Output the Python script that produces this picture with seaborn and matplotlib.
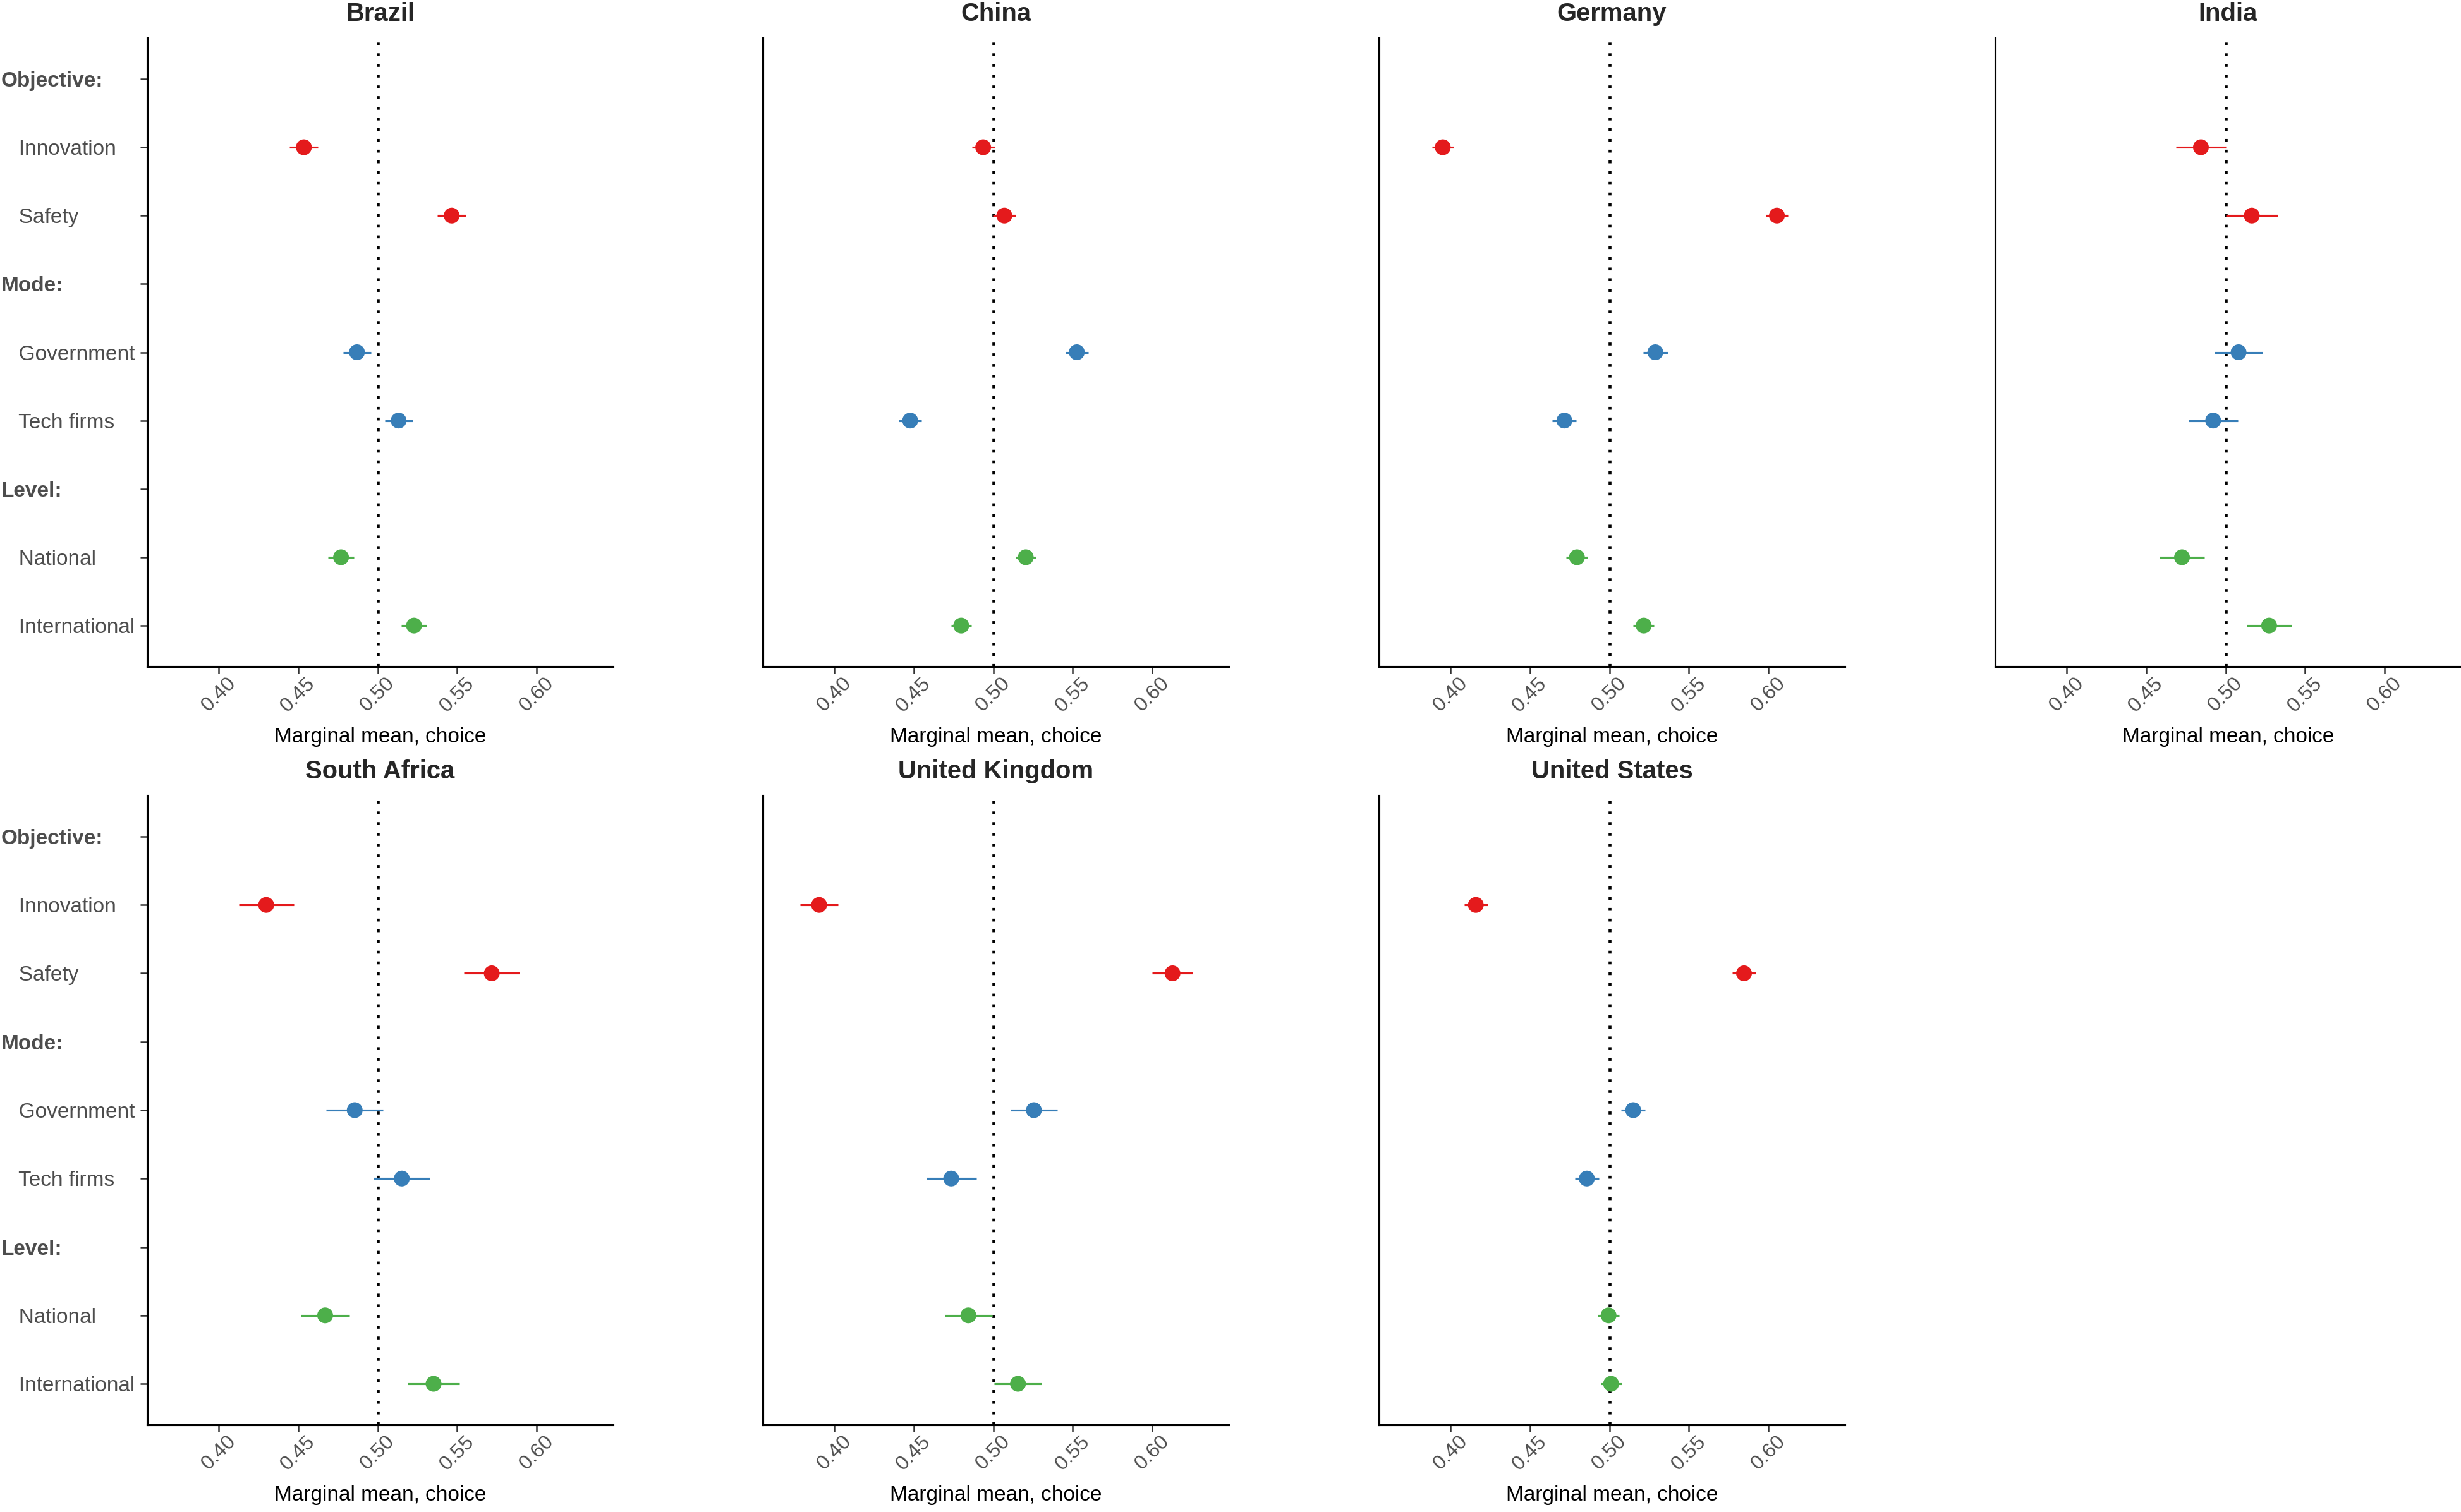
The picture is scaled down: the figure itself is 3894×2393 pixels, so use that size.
import numpy as np
import pandas as pd
import matplotlib
matplotlib.use("Agg")
import matplotlib.pyplot as plt
import seaborn as sns

# ---- data ----
COUNTRIES = ["Brazil", "China", "Germany", "India",
             "South Africa", "United Kingdom", "United States"]
ROW_LABELS = ["Objective:", "Innovation", "Safety",
              "Mode:", "Government", "Tech firms",
              "Level:", "National", "International"]
HEADERS = ["Objective:", "Mode:", "Level:"]
LEVELS = ["Innovation", "Safety", "Government", "Tech firms", "National", "International"]
ATTRIBUTE = ["Objective", "Objective", "Mode", "Mode", "Level", "Level"]

# marginal means, same order as LEVELS
MM_BRAZIL = [0.4535, 0.5465, 0.4869, 0.5131, 0.4769, 0.5228]
MM_CHINA = [0.4936, 0.5069, 0.5525, 0.4477, 0.5204, 0.4798]
MM_GERMANY = [0.3951, 0.6053, 0.5288, 0.4716, 0.4795, 0.5215]
MM_INDIA = [0.4844, 0.5164, 0.5081, 0.4921, 0.4725, 0.5273]
MM_SAFRICA = [0.4298, 0.5717, 0.4855, 0.5151, 0.4669, 0.5351]
MM_UK = [0.3904, 0.6127, 0.5255, 0.4735, 0.4843, 0.5155]
MM_US = [0.4159, 0.5846, 0.5149, 0.4857, 0.4994, 0.5010]

# half width of the 95% confidence interval
CI_BRAZIL = [0.0090, 0.0090, 0.0088, 0.0088, 0.0080, 0.0080]
CI_CHINA = [0.0072, 0.0071, 0.0071, 0.0072, 0.0065, 0.0064]
CI_GERMANY = [0.0069, 0.0070, 0.0077, 0.0076, 0.0067, 0.0065]
CI_INDIA = [0.0158, 0.0163, 0.0152, 0.0154, 0.0140, 0.0140]
CI_SAFRICA = [0.0173, 0.0176, 0.0179, 0.0178, 0.0152, 0.0162]
CI_UK = [0.0120, 0.0128, 0.0148, 0.0157, 0.0149, 0.0148]
CI_US = [0.0073, 0.0074, 0.0076, 0.0076, 0.0067, 0.0066]

X_TICKS = [0.40, 0.45, 0.50, 0.55, 0.60]

PALETTE = {"Objective": "#E41A1C", "Mode": "#377EB8", "Level": "#4DAF4A"}

# ---- tidy table ----
estimates = [MM_BRAZIL, MM_CHINA, MM_GERMANY, MM_INDIA, MM_SAFRICA, MM_UK, MM_US]
halfwidths = [CI_BRAZIL, CI_CHINA, CI_GERMANY, CI_INDIA, CI_SAFRICA, CI_UK, CI_US]
records = []
for country, est, hw in zip(COUNTRIES, estimates, halfwidths):
    for lev, att, e, h in zip(LEVELS, ATTRIBUTE, est, hw):
        records.append({"country": country, "level": lev, "attribute": att,
                        "estimate": e, "lower": e - h, "upper": e + h,
                        "ypos": ROW_LABELS.index(lev)})
df = pd.DataFrame(records)

# ---- style ----
sns.set_theme(style="ticks")
plt.rcParams["font.family"] = ["Liberation Sans", "DejaVu Sans"]

W, H = 3895, 2393
DPI = 300
fig = plt.figure(figsize=(W / DPI, H / DPI), dpi=DPI)

col_left = [233, 1207, 2182, 3157]
row_span = [(60, 1055), (1259, 2255)]
ax_w = 737

for i, country in enumerate(COUNTRIES):
    r, c = divmod(i, 4)
    top, bot = row_span[r]
    ax = fig.add_axes([col_left[c] / W, 1 - bot / H, ax_w / W, (bot - top) / H])
    sub = df[df["country"] == country]

    ax.axvline(0.5, color="black", ls=(0, (1, 2.7)), lw=1.1,
               dash_capstyle="butt", zorder=1)
    ax.hlines(sub["ypos"], sub["lower"], sub["upper"],
              colors=sub["attribute"].map(PALETTE), lw=0.75, zorder=2)
    sns.scatterplot(data=sub, x="estimate", y="ypos", hue="attribute",
                    palette=PALETTE, s=36, edgecolor="none", linewidth=0,
                    legend=False, ax=ax, zorder=3)

    ax.set_xlim(0.355, 0.648)
    ax.set_ylim(8.6, -0.6)
    ax.set_xticks(X_TICKS)
    ax.set_xticklabels([f"{t:.2f}" for t in X_TICKS], rotation=45,
                       fontsize=7.8, color="#4D4D4D")
    ax.set_xlabel("Marginal mean, choice", fontsize=8.0, color="black", labelpad=4.5)
    ax.set_ylabel("")
    ax.set_title(country, fontsize=9.6, fontweight="bold", pad=6.5)

    if c == 0:
        ax.set_yticks(range(len(ROW_LABELS)))
        labels = [lab if lab in HEADERS else "   " + lab for lab in ROW_LABELS]
        ax.set_yticklabels(labels, fontsize=8.0, color="#4D4D4D")
        ax.tick_params(axis="y", length=2.75, width=0.6, color="#333333", pad=52.8)
        for t in ax.get_yticklabels():
            t.set_horizontalalignment("left")
            if t.get_text().strip() in HEADERS:
                t.set_fontweight("bold")
    else:
        ax.set_yticks(range(len(ROW_LABELS)))
        ax.tick_params(axis="y", left=False, labelleft=False)

    ax.tick_params(axis="x", length=2.75, width=0.6, color="#333333", pad=0)
    sns.despine(ax=ax)
    for side in ["left", "bottom"]:
        ax.spines[side].set_linewidth(0.75)
        ax.spines[side].set_color("black")

fig.savefig("out.png", dpi=DPI, facecolor="white")
